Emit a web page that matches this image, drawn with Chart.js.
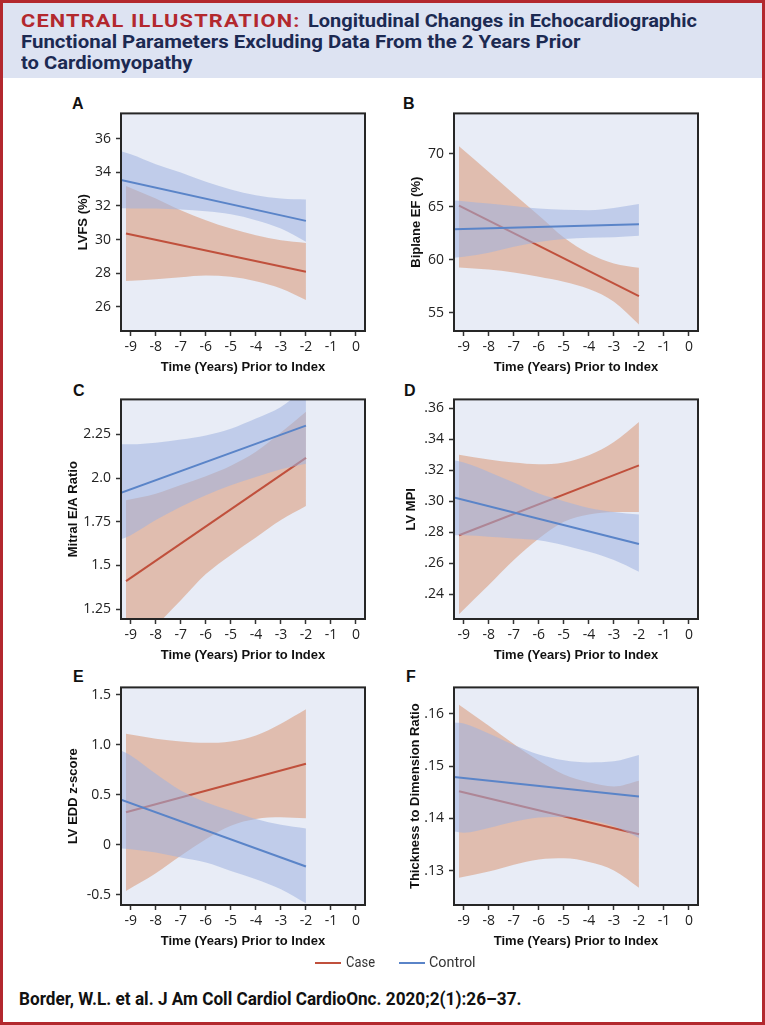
<!DOCTYPE html>
<html><head><meta charset="utf-8">
<script src="https://cdn.jsdelivr.net/npm/chart.js@4.4.1/dist/chart.umd.min.js"></script>
<style>
html,body{margin:0;padding:0;background:#fff;}
#page{position:relative;width:765px;height:1025px;overflow:hidden;background:#fff;}
#frame{position:absolute;left:0;top:0;width:765px;height:1025px;box-sizing:border-box;border:3px solid #b3282e;pointer-events:none;z-index:10;}
#header{position:absolute;left:0;top:0;width:765px;height:78px;background:#dde3f2;}
.t{position:absolute;white-space:nowrap;transform-origin:0 50%;}
.hd{font-family:Roboto,'Liberation Sans',sans-serif;font-weight:700;font-size:19px;line-height:20px;color:#1c2a52;}
.red{color:#b3282e;letter-spacing:1px;}
.lbl{position:absolute;font-family:'Liberation Sans',Arial,sans-serif;font-weight:700;font-size:16px;line-height:16px;color:#111;}
.leg{font-family:Roboto,sans-serif;font-size:14px;line-height:16px;color:#333;}
.legline{position:absolute;height:2px;}
.cite{font-family:Roboto,sans-serif;font-weight:700;font-size:17.5px;line-height:20px;color:#111;}
canvas{position:absolute;}
</style></head>
<body><div id="page">
<div id="header"></div>
<span class="t hd red" data-w="279.5" style="left:20.5px;top:10.5px">CENTRAL ILLUSTRATION:</span>
<span class="t hd" data-w="389" style="left:308px;top:10.5px">Longitudinal Changes in Echocardiographic</span>
<span class="t hd" data-w="559.5" style="left:20.5px;top:32.2px">Functional Parameters Excluding Data From the 2 Years Prior</span>
<span class="t hd" data-w="171.5" style="left:20.5px;top:53.2px">to Cardiomyopathy</span>

<div class="lbl" style="left:72px;top:96px">A</div>
<div class="lbl" style="left:403px;top:96px">B</div>
<div class="lbl" style="left:73px;top:383px">C</div>
<div class="lbl" style="left:404px;top:383px">D</div>
<div class="lbl" style="left:73px;top:669px">E</div>
<div class="lbl" style="left:406px;top:669px">F</div>

<canvas id="cA" width="335" height="281" style="left:40px;top:100px"></canvas>
<canvas id="cB" width="320" height="281" style="left:390px;top:100px"></canvas>
<canvas id="cC" width="335" height="283" style="left:40px;top:386px"></canvas>
<canvas id="cD" width="320" height="283" style="left:390px;top:386px"></canvas>
<canvas id="cE" width="335" height="281" style="left:40px;top:674px"></canvas>
<canvas id="cF" width="320" height="281" style="left:390px;top:674px"></canvas>

<div class="legline" style="left:315px;top:961.5px;width:26px;background:#c0503c"></div>
<span class="t leg" data-w="29" style="left:346px;top:954.2px">Case</span>
<div class="legline" style="left:398.5px;top:961.5px;width:26px;background:#5a84c8"></div>
<span class="t leg" data-w="46.6" style="left:429px;top:954.2px">Control</span>

<span class="t cite" data-w="502.5" style="left:18.5px;top:989px">Border, W.L. et al. J Am Coll Cardiol CardioOnc. 2020;2(1):26–37.</span>
<div id="frame"></div>
</div>
<script>
// ---- shared axis data ----
const xTicks=[-9,-8,-7,-6,-5,-4,-3,-2,-1,0];
const xTickLabels=['-9','-8','-7','-6','-5','-4','-3','-2','-1','0'];
const xTitle='Time (Years) Prior to Index';
const caseLineX=[-9.19,-2];
const controlLineX=[-9.39,-2];
const caseBandX=[-9.19,-8,-7,-6,-5,-4,-3,-2];
const controlBandX=[-9.39,-9,-8,-7,-6,-5,-4,-3,-2];

// ---- A: LVFS (%) ----
const lvfsTicks=[26,28,30,32,34,36];
const lvfsTickLabels=['26','28','30','32','34','36'];
const lvfsControlFit=[33.54,31.11];
const lvfsControlUpper=[35.25,35.07,34.48,33.98,33.43,32.97,32.63,32.44,32.38];
const lvfsControlLower=[31.86,31.85,31.84,31.78,31.68,31.5,31.15,30.65,29.86];
const lvfsCaseFit=[30.36,28.08];
const lvfsCaseUpper=[33.19,32.44,31.74,31.15,30.65,30.26,29.96,29.8];
const lvfsCaseLower=[27.54,27.64,27.76,27.86,27.78,27.52,27.09,26.4];

// ---- B: Biplane EF (%) ----
const efTicks=[55,60,65,70];
const efTickLabels=['55','60','65','70'];
const efControlFit=[62.88,63.35];
const efControlUpper=[65.58,65.51,65.29,65.07,64.82,64.7,64.66,64.88,65.26];
const efControlLower=[60.18,60.27,60.65,61.21,61.68,61.94,62.06,62.12,62.25];
const efCaseFit=[65.1,56.57];
const efCaseUpper=[70.69,68.27,66.2,64.16,62.09,60.59,59.65,59.24];
const efCaseLower=[59.27,59.08,58.8,58.39,57.92,57.23,56.04,53.9];

// ---- C: Mitral E/A Ratio ----
const eaTicks=[1.25,1.5,1.75,2.0,2.25];
const eaTickLabels=['1.25','1.5','1.75','2.0','2.25'];
const eaControlFit=[1.915,2.30];
const eaControlUpper=[2.193,2.193,2.202,2.221,2.244,2.282,2.34,2.406,2.52];
const eaControlLower=[1.65,1.673,1.759,1.835,1.901,1.959,2.006,2.05,2.082];
const eaCaseFit=[1.41,2.115];
const eaCaseUpper=[1.873,1.91,1.96,2.01,2.07,2.15,2.26,2.38];
const eaCaseLower=[0.95,1.15,1.30,1.45,1.56,1.66,1.76,1.84];

// ---- D: LV MPI ----
const mpiTicks=[0.24,0.26,0.28,0.30,0.32,0.34,0.36];
const mpiTickLabels=['.24','.26','.28','.30','.32','.34','.36'];
const mpiControlFit=[0.3024,0.2724];
const mpiControlUpper=[0.3264,0.3249,0.3189,0.312,0.3049,0.30,0.2957,0.2931,0.2914];
const mpiControlLower=[0.2781,0.2781,0.2771,0.276,0.2749,0.2717,0.2674,0.2621,0.2546];
const mpiCaseFit=[0.2781,0.3231];
const mpiCaseUpper=[0.33,0.3268,0.3249,0.3238,0.3249,0.3296,0.3381,0.351];
const mpiCaseLower=[0.2272,0.246,0.2621,0.276,0.2867,0.2914,0.2931,0.2931];

// ---- E: LV EDD z-score ----
const eddTicks=[-0.5,0,0.5,1.0,1.5];
const eddTickLabels=['-0.5','0','0.5','1.0','1.5'];
const eddControlFit=[0.452,-0.216];
const eddControlUpper=[0.942,0.892,0.709,0.542,0.425,0.341,0.258,0.201,0.164];
const eddControlLower=[-0.036,-0.043,-0.076,-0.126,-0.176,-0.26,-0.343,-0.443,-0.583];
const eddCaseFit=[0.325,0.809];
const eddCaseUpper=[1.109,1.06,1.033,1.019,1.033,1.093,1.21,1.353];
const eddCaseLower=[-0.46,-0.283,-0.109,0.057,0.191,0.258,0.275,0.265];

// ---- F: Thickness to Dimension Ratio ----
const tdrTicks=[0.13,0.14,0.15,0.16];
const tdrTickLabels=['.13','.14','.15','.16'];
const tdrControlFit=[0.1479,0.1442];
const tdrControlUpper=[0.1583,0.1581,0.1562,0.154,0.1522,0.1511,0.1507,0.1509,0.1521];
const tdrControlLower=[0.1375,0.1373,0.1382,0.1394,0.1402,0.1403,0.1397,0.1385,0.1363];
const tdrCaseFit=[0.1452,0.137];
const tdrCaseUpper=[0.1617,0.1577,0.1542,0.151,0.1484,0.1469,0.1461,0.1472];
const tdrCaseLower=[0.1287,0.1299,0.1312,0.1322,0.1324,0.1317,0.1301,0.1268];

// ---- styles ----
const CASE_LINE='#c0503c', CTRL_LINE='#5a84c8';
const CASE_FILL='rgba(216,152,117,0.55)', CTRL_FILL='rgba(159,178,224,0.55)';
const PLOT_BG='#e8ecf6';
const TICK_FONT={family:"'Open Sans','Liberation Sans',sans-serif",size:14};
const TITLE_FONT={family:"'Liberation Sans',Arial,sans-serif",size:13,weight:'bold'};

const bgFrame={id:'bgFrame',
  beforeDraw(c){const a=c.chartArea,x=c.ctx;x.save();x.fillStyle=PLOT_BG;x.fillRect(a.left,a.top,a.right-a.left,a.bottom-a.top);x.restore();},
  afterDraw(c){const a=c.chartArea,x=c.ctx;x.save();x.strokeStyle='#262626';x.lineWidth=2;x.strokeRect(a.left,a.top,a.right-a.left,a.bottom-a.top);x.restore();}
};

function pts(xs,ys){return xs.map((x,i)=>({x:x,y:ys[i]}));}
function band(xs,ys,color,order,fill){
  return {data:pts(xs,ys),borderWidth:0,borderColor:'rgba(0,0,0,0)',backgroundColor:color,fill:fill,
          pointRadius:0,cubicInterpolationMode:'monotone',order:order};
}
function fitLine(xs,ys,color,order){
  return {data:pts(xs,ys),borderColor:color,borderWidth:2,pointRadius:0,fill:false,order:order};
}

function panel(p){
  const yW=p.col===0?81:64, padR=p.col===0?10:12;
  new Chart(document.getElementById(p.id),{
    type:'line',
    data:{datasets:[
      band(caseBandX,p.caseUpper,CASE_FILL,6,'+1'),
      band(caseBandX,p.caseLower,CASE_FILL,5,false),
      fitLine(caseLineX,p.caseFit,CASE_LINE,4),
      band(controlBandX,p.controlUpper,CTRL_FILL,3,'+1'),
      band(controlBandX,p.controlLower,CTRL_FILL,2,false),
      fitLine(controlLineX,p.controlFit,CTRL_LINE,1)
    ]},
    options:{
      responsive:false,animation:false,events:[],
      layout:{padding:{top:13,right:padR,bottom:0,left:0}},
      plugins:{legend:{display:false},tooltip:{enabled:false}},
      scales:{
        x:{type:'linear',min:-9.39,max:0.36,
          afterBuildTicks:a=>{a.ticks=xTicks.map(v=>({value:v}));},
          afterFit:s=>{s.height=50;},
          grid:{drawOnChartArea:false,drawTicks:true,tickLength:5,tickWidth:1.5,tickColor:'#333'},
          border:{display:false},
          ticks:{autoSkip:false,maxRotation:0,padding:2.5,color:'#222',font:TICK_FONT,callback:(v,i)=>xTickLabels[i]},
          title:{display:true,text:xTitle,color:'#111',font:TITLE_FONT,padding:{top:0,bottom:6.2}}
        },
        y:{type:'linear',min:p.yMin,max:p.yMax,
          afterBuildTicks:a=>{a.ticks=p.ticks.map(v=>({value:v}));},
          afterFit:s=>{s.width=yW;},
          grid:{drawOnChartArea:false,drawTicks:true,tickLength:5,tickWidth:1.5,tickColor:'#333'},
          border:{display:false},
          ticks:{autoSkip:false,padding:5,color:'#222',font:TICK_FONT,callback:(v,i)=>p.labels[i]},
          title:{display:true,text:p.yTitle,color:'#111',font:TITLE_FONT,padding:{top:p.tpad,bottom:0}}
        }
      }
    },
    plugins:[bgFrame]
  });
}

panel({id:'cA',col:0,yTitle:'LVFS (%)',yMin:24.56,yMax:37.5,ticks:lvfsTicks,labels:lvfsTickLabels,tpad:35.2,
  caseFit:lvfsCaseFit,caseUpper:lvfsCaseUpper,caseLower:lvfsCaseLower,
  controlFit:lvfsControlFit,controlUpper:lvfsControlUpper,controlLower:lvfsControlLower});
panel({id:'cB',col:1,yTitle:'Biplane EF (%)',yMin:53.28,yMax:73.79,ticks:efTicks,labels:efTickLabels,tpad:19,
  caseFit:efCaseFit,caseUpper:efCaseUpper,caseLower:efCaseLower,
  controlFit:efControlFit,controlUpper:efControlUpper,controlLower:efControlLower});
panel({id:'cC',col:0,yTitle:'Mitral E/A Ratio',yMin:1.193,yMax:2.45,ticks:eaTicks,labels:eaTickLabels,tpad:25.9,
  caseFit:eaCaseFit,caseUpper:eaCaseUpper,caseLower:eaCaseLower,
  controlFit:eaControlFit,controlUpper:eaControlUpper,controlLower:eaControlLower});
panel({id:'cD',col:1,yTitle:'LV MPI',yMin:0.2241,yMax:0.3656,ticks:mpiTicks,labels:mpiTickLabels,tpad:13.9,
  caseFit:mpiCaseFit,caseUpper:mpiCaseUpper,caseLower:mpiCaseLower,
  controlFit:mpiControlFit,controlUpper:mpiControlUpper,controlLower:mpiControlLower});
panel({id:'cE',col:0,yTitle:'LV EDD z-score',yMin:-0.6,yMax:1.572,ticks:eddTicks,labels:eddTickLabels,tpad:25.9,
  caseFit:eddCaseFit,caseUpper:eddCaseUpper,caseLower:eddCaseLower,
  controlFit:eddControlFit,controlUpper:eddControlUpper,controlLower:eddControlLower});
panel({id:'cF',col:1,yTitle:'Thickness to Dimension Ratio',yMin:0.1235,yMax:0.165,ticks:tdrTicks,labels:tdrTickLabels,tpad:17.9,
  caseFit:tdrCaseFit,caseUpper:tdrCaseUpper,caseLower:tdrCaseLower,
  controlFit:tdrControlFit,controlUpper:tdrControlUpper,controlLower:tdrControlLower});

function fitText(){
  document.querySelectorAll('[data-w]').forEach(el=>{
    el.style.transform='none';
    const w=el.getBoundingClientRect().width;
    if(w>0) el.style.transform='scaleX('+(parseFloat(el.dataset.w)/w)+')';
  });
}
fitText();
if(document.fonts&&document.fonts.ready) document.fonts.ready.then(fitText);
</script>
</body></html>
